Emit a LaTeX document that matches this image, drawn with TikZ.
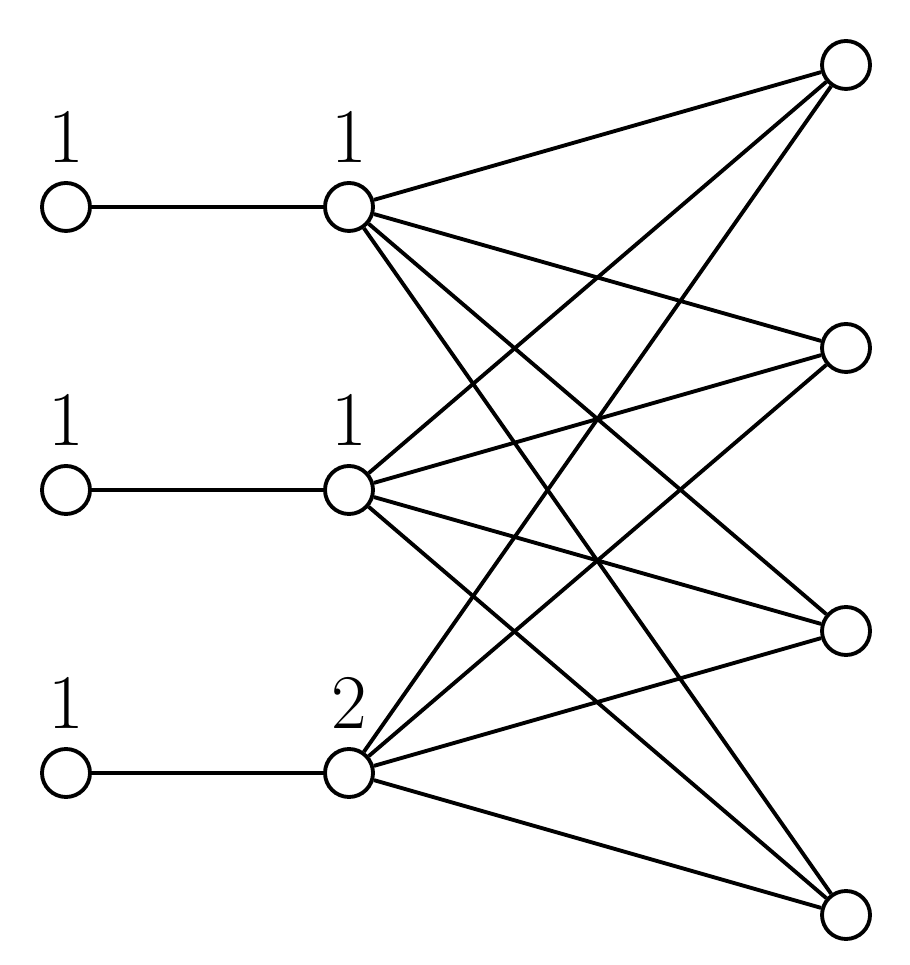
\documentclass[tikz,border=0pt]{standalone}
\usepackage{amssymb, amsmath}
\usepackage{tikz}

\tikzset{
    vert/.style={draw, circle, minimum size=0.48cm, inner sep=0pt, line width=1.1pt},
    num/.style={font=\fontsize{22}{26}\selectfont, inner sep=0pt},
    edge/.style={line width=1.1pt}
}

\begin{document}
\begin{tikzpicture}
    \useasboundingbox (0,0) rectangle (9.09,9.65);
    % Define nodes
    \node[vert] (A1) at (0.66,7.58) {};
    \node[vert] (A2) at (0.66,4.75) {};
    \node[vert] (A3) at (0.66,1.92) {};

    \node[vert] (B1) at (3.49,7.58) {};
    \node[vert] (B2) at (3.49,4.75) {};
    \node[vert] (B3) at (3.49,1.92) {};

    \node[vert] (C1) at (8.46,9.00) {};
    \node[vert] (C2) at (8.46,6.17) {};
    \node[vert] (C3) at (8.46,3.34) {};
    \node[vert] (C4) at (8.46,0.50) {};

    % Labels
    \node[num] (LA1) at (0.66,8.28) {1};
    \node[num] (LA2) at (0.66,5.45) {1};
    \node[num] (LA3) at (0.66,2.62) {1};
    \node[num] (LB1) at (3.49,8.28) {1};
    \node[num] (LB2) at (3.49,5.45) {1};
    \node[num] (LB3) at (3.49,2.62) {2};

    % Draw edges
    \draw[edge] (A1) -- (B1);
    \draw[edge] (A2) -- (B2);
    \draw[edge] (A3) -- (B3);
    \foreach \b in {B1,B2,B3}
        \foreach \c in {C1,C2,C3,C4}
            \draw[edge] (\b) -- (\c);
\end{tikzpicture}
\end{document}
